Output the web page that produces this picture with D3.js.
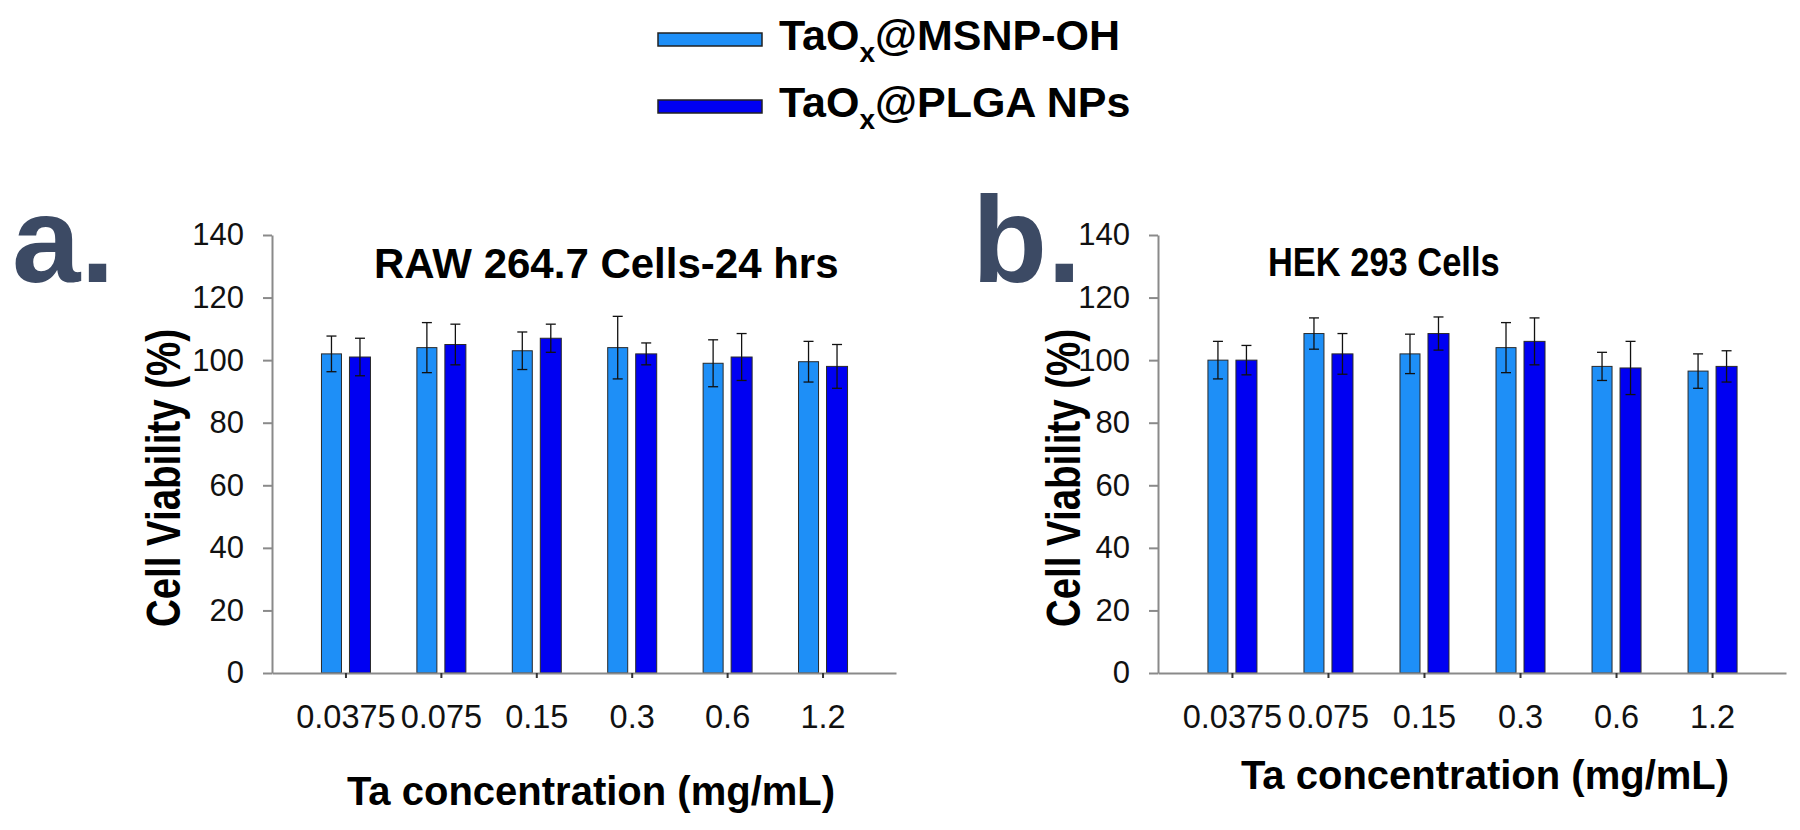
<!DOCTYPE html>
<html>
<head>
<meta charset="utf-8">
<script src="https://cdn.jsdelivr.net/npm/d3@7"></script>
<style>
  html, body { margin: 0; padding: 0; background: #ffffff; }
  svg { display: block; }
  text { font-family: Arial, "Liberation Sans", Helvetica, sans-serif; }
</style>
</head>
<body>
<svg id="chart" width="1800" height="830"></svg>
<script>
// ---------------- data ----------------
const categories = ["0.0375", "0.075", "0.15", "0.3", "0.6", "1.2"];
const seriesNames = ["MSNP-OH", "PLGA NPs"];
const yTicks = [0, 20, 40, 60, 80, 100, 120, 140];

// Panel a: RAW 264.7 Cells-24 hrs
const rawMSNP    = [102, 104, 103, 104, 99, 99.5];
const rawMSNPErr = [5.7, 8, 6, 10, 7.5, 6.5];
const rawPLGA    = [101, 105, 107, 102, 101, 98];
const rawPLGAErr = [6, 6.5, 4.5, 3.5, 7.5, 7];

// Panel b: HEK 293 Cells
const hekMSNP    = [100, 108.5, 102, 104, 98, 96.5];
const hekMSNPErr = [6, 5, 6.3, 8, 4.5, 5.5];
const hekPLGA    = [100, 102, 108.5, 106, 97.5, 98];
const hekPLGAErr = [4.7, 6.5, 5.3, 7.5, 8.5, 5];

const colors = ["#1e8ff7", "#0000f2"];

// ---------------- drawing ----------------
const svg = d3.select("#chart");

const y = d3.scaleLinear().domain([0, 140]).range([673, 235]);

function drawPanel(cfg) {
  const g = svg.append("g");
  const x = d3.scalePoint().domain(categories).range([cfg.x0, cfg.x1]).padding(0.77);

  // panel letter
  g.append("text")
    .attr("x", cfg.letterX).attr("y", 282)
    .attr("font-size", 123).attr("font-weight", "bold")
    .attr("fill", "#3c4a64")
    .text(cfg.letter);

  // y axis
  const yAxis = g.append("g")
    .attr("transform", `translate(${cfg.x0},0)`)
    .call(d3.axisLeft(y).tickValues(yTicks).tickSize(9).tickSizeOuter(0).tickPadding(19));
  yAxis.select(".domain").attr("stroke", "#8a8a8a").attr("stroke-width", 2);
  yAxis.selectAll(".tick line").attr("stroke", "#8a8a8a").attr("stroke-width", 2);
  yAxis.selectAll(".tick text").attr("font-size", 31).attr("fill", "#111")
    .attr("font-family", "Arial, 'Liberation Sans', sans-serif");

  // bars
  const series = [
    { vals: cfg.s1, errs: cfg.e1, color: colors[0], off: -24, w: 20 },
    { vals: cfg.s2, errs: cfg.e2, color: colors[1], off: 4, w: 21 }
  ];
  series.forEach(s => {
    const data = categories.map((c, i) => ({ c, v: s.vals[i], e: s.errs[i] }));
    g.append("g").selectAll("rect").data(data).join("rect")
      .attr("x", d => x(d.c) + s.off)
      .attr("width", s.w)
      .attr("y", d => y(d.v))
      .attr("height", d => y(0) - y(d.v))
      .attr("fill", s.color)
      .attr("stroke", "#2a2a2a").attr("stroke-width", 1);
    const eg = g.append("g").attr("stroke", "#111").attr("stroke-width", 1.3);
    data.forEach(d => {
      const cx = x(d.c) + s.off + s.w / 2;
      eg.append("line").attr("x1", cx).attr("x2", cx).attr("y1", y(d.v + d.e)).attr("y2", y(d.v - d.e));
      eg.append("line").attr("x1", cx - 5).attr("x2", cx + 5).attr("y1", y(d.v + d.e)).attr("y2", y(d.v + d.e));
      eg.append("line").attr("x1", cx - 5).attr("x2", cx + 5).attr("y1", y(d.v - d.e)).attr("y2", y(d.v - d.e));
    });
  });

  // x axis
  const xAxis = g.append("g")
    .attr("transform", `translate(0,${y(0)})`)
    .call(d3.axisBottom(x).tickSize(5).tickSizeOuter(0).tickPadding(27));
  xAxis.select(".domain").attr("stroke", "#8a8a8a").attr("stroke-width", 2);
  xAxis.selectAll(".tick line").attr("stroke", "#333").attr("stroke-width", 2);
  xAxis.selectAll(".tick text").attr("font-size", 32.5).attr("fill", "#111")
    .attr("font-family", "Arial, 'Liberation Sans', sans-serif");

  // titles
  g.append("text")
    .attr("transform", `translate(${cfg.titleX},${cfg.titleY}) scale(${cfg.titleScale},1)`)
    .attr("font-size", cfg.titleSize).attr("font-weight", "bold").attr("fill", "#000")
    .text(cfg.title);

  g.append("text")
    .attr("transform", `translate(${cfg.yTitleX},478) rotate(-90) scale(0.8,1)`)
    .attr("text-anchor", "middle")
    .attr("font-size", 48).attr("font-weight", "bold").attr("fill", "#000")
    .text("Cell Viability (%)");

  g.append("text")
    .attr("x", cfg.xTitleX).attr("y", cfg.xTitleY)
    .attr("text-anchor", "middle")
    .attr("font-size", 40).attr("font-weight", "bold").attr("fill", "#000")
    .text("Ta concentration (mg/mL)");
}

drawPanel({
  letter: "a.", letterX: 12,
  x0: 272, x1: 896,
  s1: rawMSNP, e1: rawMSNPErr, s2: rawPLGA, e2: rawPLGAErr,
  title: "RAW 264.7 Cells-24 hrs", titleX: 374, titleY: 278, titleSize: 42, titleScale: 1,
  yTitleX: 180, xTitleX: 591, xTitleY: 805
});

drawPanel({
  letter: "b.", letterX: 972,
  x0: 1158, x1: 1786,
  s1: hekMSNP, e1: hekMSNPErr, s2: hekPLGA, e2: hekPLGAErr,
  title: "HEK 293 Cells", titleX: 1268, titleY: 276, titleSize: 41, titleScale: 0.84,
  yTitleX: 1080, xTitleX: 1485, xTitleY: 789
});

// legend
const legend = svg.append("g");
const legendRows = [
  { name: seriesNames[0], color: colors[0], y: 50 },
  { name: seriesNames[1], color: colors[1], y: 117 }
];
legendRows.forEach(r => {
  legend.append("rect")
    .attr("x", 658).attr("y", r.y - 17).attr("width", 104).attr("height", 13)
    .attr("fill", r.color).attr("stroke", "#222").attr("stroke-width", 1.5);
  const t = legend.append("text")
    .attr("x", 779).attr("y", r.y)
    .attr("font-size", 43).attr("font-weight", "bold").attr("fill", "#000");
  t.append("tspan").text("TaO");
  t.append("tspan").attr("font-size", 28).attr("dy", 12).text("x");
  t.append("tspan").attr("dy", -12).text("@" + r.name);
});
</script>
</body>
</html>
